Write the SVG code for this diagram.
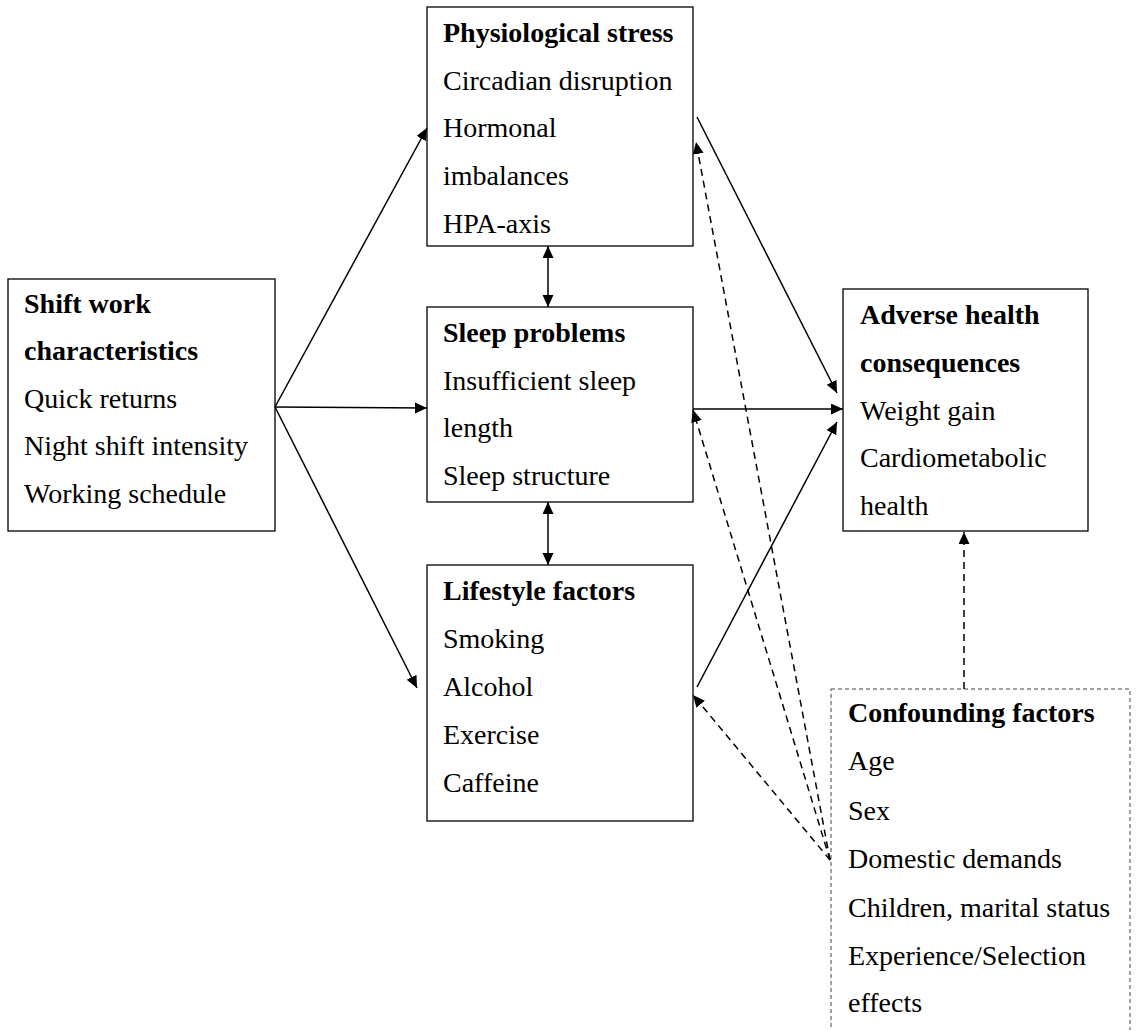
<svg xmlns="http://www.w3.org/2000/svg" width="1136" height="1030" viewBox="0 0 1136 1030">
<style>
.box{fill:#fff;stroke:#000;stroke-width:1.3}
.cbox{fill:#fff;stroke:#444;stroke-width:1;stroke-dasharray:4 3}
text{font-family:"Liberation Serif","Times New Roman",serif;font-size:28px;fill:#000}
.b{font-weight:bold}
.c{fill:none;stroke:#000;stroke-width:1.5}
.d{stroke-dasharray:7 5}
</style>
<defs>
<marker id="ah" markerUnits="userSpaceOnUse" markerWidth="13" markerHeight="12" refX="12" refY="5.5" orient="auto-start-reverse">
<path d="M0,0 L12,5.5 L0,11 z" fill="#000"/>
</marker>
</defs>
<rect width="1136" height="1030" fill="#fff"/>
<g id="confounding">
<rect class="cbox" x="831" y="689" width="299" height="360"/>
<text x="848" y="722" class="b">Confounding factors</text>
<text x="848" y="770">Age</text>
<text x="848" y="820">Sex</text>
<text x="848" y="868">Domestic demands</text>
<text x="848" y="917">Children, marital status</text>
<text x="848" y="965">Experience/Selection</text>
<text x="848" y="1012">effects</text>
</g>
<g id="shiftwork">
<rect class="box" x="8" y="279" width="267" height="252"/>
<text x="24" y="313" class="b">Shift work</text>
<text x="24" y="360" class="b">characteristics</text>
<text x="24" y="408">Quick returns</text>
<text x="24" y="455">Night shift intensity</text>
<text x="24" y="503">Working schedule</text>
</g>
<g id="physiological">
<rect class="box" x="427" y="7" width="266" height="239"/>
<text x="443" y="42" class="b">Physiological stress</text>
<text x="443" y="90">Circadian disruption</text>
<text x="443" y="137">Hormonal</text>
<text x="443" y="185">imbalances</text>
<text x="443" y="233">HPA-axis</text>
</g>
<g id="sleep">
<rect class="box" x="427" y="307" width="266" height="195"/>
<text x="443" y="342" class="b">Sleep problems</text>
<text x="443" y="390">Insufficient sleep</text>
<text x="443" y="437">length</text>
<text x="443" y="485">Sleep structure</text>
</g>
<g id="lifestyle">
<rect class="box" x="427" y="565" width="266" height="256"/>
<text x="443" y="600" class="b">Lifestyle factors</text>
<text x="443" y="648">Smoking</text>
<text x="443" y="696">Alcohol</text>
<text x="443" y="744">Exercise</text>
<text x="443" y="792">Caffeine</text>
</g>
<g id="adverse">
<rect class="box" x="843" y="289" width="245" height="242"/>
<text x="860" y="324" class="b">Adverse health</text>
<text x="860" y="372" class="b">consequences</text>
<text x="860" y="420">Weight gain</text>
<text x="860" y="467">Cardiometabolic</text>
<text x="860" y="515">health</text>
</g>
<g id="connectors">
<line class="c" x1="275" y1="407" x2="427" y2="128" marker-end="url(#ah)"/>
<line class="c" x1="275" y1="407" x2="427" y2="408" marker-end="url(#ah)"/>
<line class="c" x1="275" y1="407" x2="417" y2="688" marker-end="url(#ah)"/>
<line class="c" x1="548" y1="246" x2="548" y2="307" marker-start="url(#ah)" marker-end="url(#ah)"/>
<line class="c" x1="548" y1="502" x2="548" y2="565" marker-start="url(#ah)" marker-end="url(#ah)"/>
<line class="c" x1="697" y1="117" x2="837" y2="393" marker-end="url(#ah)"/>
<line class="c" x1="693" y1="409" x2="843" y2="409" marker-end="url(#ah)"/>
<line class="c" x1="697" y1="687" x2="837" y2="422" marker-end="url(#ah)"/>
<line class="c d" x1="830" y1="860" x2="696" y2="142" marker-end="url(#ah)"/>
<line class="c d" x1="830" y1="860" x2="693" y2="410" marker-end="url(#ah)"/>
<line class="c d" x1="830" y1="860" x2="693" y2="695" marker-end="url(#ah)"/>
<line class="c d" x1="964" y1="689" x2="964" y2="532" marker-end="url(#ah)"/>
</g>
</svg>
